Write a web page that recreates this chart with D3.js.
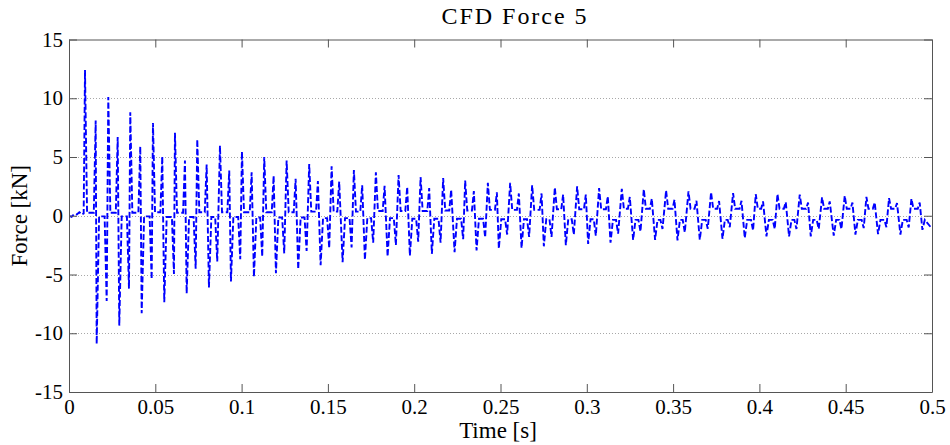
<!DOCTYPE html>
<html><head><meta charset="utf-8">
<script src="https://cdn.jsdelivr.net/npm/d3@7"></script>
<style>
body{margin:0;background:#fff}
svg{display:block}
text{font-family:"Liberation Serif","Times New Roman",serif;fill:#000}
</style>
</head><body>
<svg id="c" width="950" height="445"></svg>
<script>
// ---- data ----
const xTicks = [0,0.05,0.1,0.15,0.2,0.25,0.3,0.35,0.4,0.45,0.5];
const yTicks = [-15,-10,-5,0,5,10,15];
const gridValues = [-10,-5,0,5,10];

// quiet lead-in before the first pulse
const leadTime  = [0, 0.0015, 0.003, 0.0045, 0.006, 0.0075, 0.0085];
const leadForce = [0, -0.1, 0.15, 0.1, 0.3, 0.1, 0.2];

// main (largest) positive peak of each cycle
const mainTime = [0.00927,0.02276,0.03550,0.04865,0.06139,0.07431,0.08746,0.10020,0.11311,0.12609,
  0.13917,0.15215,0.16506,0.17780,0.19095,0.20370,0.21678,0.22953,0.24267,0.25559,
  0.26833,0.28148,0.29440,0.30713,0.32028,0.33302,0.34594,0.35891,0.37200,0.38475,
  0.39789,0.41046,0.42337,0.43629,0.44943,0.46200,0.47510,0.48807];
const mainPeak = [12.4,10.1,8.8,7.9,7.07,6.5,5.97,5.46,5.0,4.7,
  4.4,4.2,3.9,3.7,3.47,3.3,3.2,3.0,2.8,2.8,
  2.6,2.4,2.5,2.35,2.3,2.25,2.15,2.07,2.0,1.93,
  1.85,1.85,1.8,1.56,1.7,1.6,1.5,1.45];

// secondary positive peak
const secondTime = [0.01546,0.02821,0.04129,0.05404,0.06718,0.07975,0.09284,0.10582,0.11856,0.13130,
  0.14421,0.15655,0.16987,0.18284,0.19594,0.20868,0.22142,0.23456,0.24789,0.26063,
  0.27378,0.28629,0.29943,0.31217,0.32492,0.33766,0.35080,0.36354,0.37664,0.38961,
  0.40212,0.41527,0.42819,0.44075,0.45390,0.46681,0.47973,0.49287];
const secondPeak = [8.1,6.7,5.9,5.05,4.7,4.35,3.84,3.7,3.4,3.15,
  2.95,2.9,2.6,2.55,2.45,2.35,2.2,2.1,2.0,1.9,
  1.9,1.8,1.8,1.65,1.6,1.45,1.36,1.28,1.25,1.28,
  1.22,1.16,1.13,1.22,1.13,1.13,1.08,1.13];

// deep negative trough
const deepTime = [0.01604,0.02913,0.04211,0.05520,0.06817,0.08108,0.09383,0.10715,0.11989,0.13280,
  0.14578,0.15852,0.17144,0.18458,0.19750,0.21024,0.22339,0.23613,0.24904,0.26219,
  0.27511,0.28785,0.30077,0.31374,0.32683,0.33957,0.35254,0.36546,0.37860,0.39152,
  0.40409,0.41718,0.42975,0.44307,0.45563,0.46873,0.48170,0.49444];
const deepTrough = [-10.9,-9.35,-8.3,-7.36,-6.6,-6.1,-5.6,-5.2,-4.9,-4.55,
  -4.2,-3.95,-3.75,-3.47,-3.4,-3.24,-3.1,-2.95,-2.8,-2.75,
  -2.6,-2.5,-2.4,-2.3,-2.05,-2.05,-2.1,-2.05,-1.96,-1.9,
  -1.76,-1.76,-1.76,-1.7,-1.6,-1.56,-1.6,-1.2];

// shallow negative trough just before the next main peak
const shallowTime = [0.02183,0.03475,0.04790,0.06081,0.07338,0.08589,0.09921,0.11195,0.12470,0.13767,
  0.15076,0.16373,0.17624,0.18939,0.20231,0.21528,0.22837,0.24111,0.25385,0.26659,
  0.27957,0.29248,0.30522,0.31814,0.33111,0.34385,0.35677,0.37009,0.38283,0.39633,
  0.40889,0.42146,0.43438,0.44753,0.46044,0.47359,0.48651];
const shallowTrough = [-7.25,-6.2,-5.4,-4.95,-4.5,-3.9,-3.7,-3.47,-3.2,-3.0,
  -2.75,-2.7,-2.3,-2.5,-2.2,-2.3,-2.0,-1.85,-1.6,-1.8,
  -1.8,-1.6,-1.7,-1.53,-1.34,-1.13,-1.42,-1.1,-0.97,-1.25,
  -1.13,-1.13,-1.13,-1.13,-1.05,-0.97,-1.0];

// levels the signal settles at between the peaks / between the troughs
const plateauHigh = [0.25,0.25,0.25,0.3,0.25,0.3,0.3,0.3,0.3,0.3,
  0.35,0.35,0.35,0.4,0.4,0.4,0.45,0.45,0.5,0.5,
  0.5,0.55,0.55,0.55,0.6,0.6,0.6,0.6,0.6,0.6,
  0.6,0.6,0.6,0.6,0.6,0.6,0.6,0.6];
const plateauLow = [-0.05,-0.05,-0.05,-0.1,-0.1,-0.1,-0.1,-0.15,-0.15,-0.15,
  -0.2,-0.2,-0.2,-0.2,-0.25,-0.25,-0.25,-0.25,-0.3,-0.3,
  -0.3,-0.3,-0.3,-0.35,-0.35,-0.35,-0.35,-0.35,-0.35,-0.35,
  -0.35,-0.35,-0.35,-0.35,-0.35,-0.35,-0.35,-0.35];
const endTime = 0.5, endForce = -1.1;

// ---- build the series ----
const series = leadTime.map((t,i)=>[t, leadForce[i]]);
for (let k = 0; k < mainTime.length; k++) {
  series.push([mainTime[k], mainPeak[k]]);
  series.push([mainTime[k] + 0.0012, plateauHigh[k]]);
  series.push([secondTime[k] - 0.0011, plateauHigh[k]]);
  series.push([secondTime[k], secondPeak[k]]);
  series.push([deepTime[k], deepTrough[k]]);
  series.push([deepTime[k] + 0.0014, plateauLow[k]]);
  if (k < shallowTime.length) {
    series.push([shallowTime[k] - 0.0012, plateauLow[k]]);
    series.push([shallowTime[k], shallowTrough[k]]);
  } else {
    series.push([endTime, endForce]);
  }
}

// ---- chart ----
const PL = 69, PR = 932, PT = 39.5, PB = 392;
const svg = d3.select('#c');
const x = d3.scaleLinear().domain([0,0.5]).range([PL,PR]);
const y = d3.scaleLinear().domain([-15,15]).range([PB,PT]);

svg.append('defs').append('clipPath').attr('id','clip')
  .append('rect').attr('x',PL).attr('y',PT).attr('width',PR-PL).attr('height',PB-PT);

// grid
svg.append('g').selectAll('line').data(gridValues).join('line')
  .attr('x1',PL).attr('x2',PR)
  .attr('y1',d=>Math.round(y(d))+0.5).attr('y2',d=>Math.round(y(d))+0.5)
  .attr('stroke','#a8a8a8').attr('stroke-width',1).attr('stroke-dasharray','1,2');

// data line
svg.append('path').datum(series)
  .attr('clip-path','url(#clip)')
  .attr('fill','none').attr('stroke','#0000ff').attr('stroke-width',1.9)
  .attr('stroke-dasharray','6,2.5')
  .attr('d', d3.line().x(d=>x(d[0])).y(d=>y(d[1])));

// axes (ticks inward on all four sides)
const fmtX = d => d3.format('~g')(d);
const axColor = '#555';
const gBottom = svg.append('g').attr('transform',`translate(0,${PB})`)
  .call(d3.axisBottom(x).tickValues(xTicks).tickFormat(fmtX).tickSizeInner(-8).tickSizeOuter(0).tickPadding(7));
const gTop = svg.append('g').attr('transform',`translate(0,${PT})`)
  .call(d3.axisTop(x).tickValues(xTicks).tickFormat('').tickSizeInner(-8).tickSizeOuter(0));
const gLeft = svg.append('g').attr('transform',`translate(${PL},0)`)
  .call(d3.axisLeft(y).tickValues(yTicks).tickFormat(d=>d).tickSizeInner(-8).tickSizeOuter(0).tickPadding(6));
const gRight = svg.append('g').attr('transform',`translate(${PR},0)`)
  .call(d3.axisRight(y).tickValues(yTicks).tickFormat('').tickSizeInner(-8).tickSizeOuter(0));
[gBottom,gTop,gLeft,gRight].forEach(g=>{
  g.selectAll('path').attr('stroke',axColor);
  g.selectAll('line').attr('stroke',axColor);
  g.selectAll('text').style('font-family','"Liberation Serif","Times New Roman",serif')
    .style('font-size','21px').attr('fill','#000');
});
gBottom.selectAll('text').attr('dy','0.71em');

// title and labels
svg.append('text').attr('x',514).attr('y',24).attr('text-anchor','middle')
  .attr('textLength',145).attr('lengthAdjust','spacing')
  .style('font-size','24px').text('CFD Force 5');
svg.append('text').attr('x',498).attr('y',438).attr('text-anchor','middle')
  .style('font-size','23px').text('Time [s]');
svg.append('text').attr('transform',`translate(27,${(PT+PB)/2}) rotate(-90)`)
  .attr('text-anchor','middle').style('font-size','23px').text('Force [kN]');
</script>
</body></html>
